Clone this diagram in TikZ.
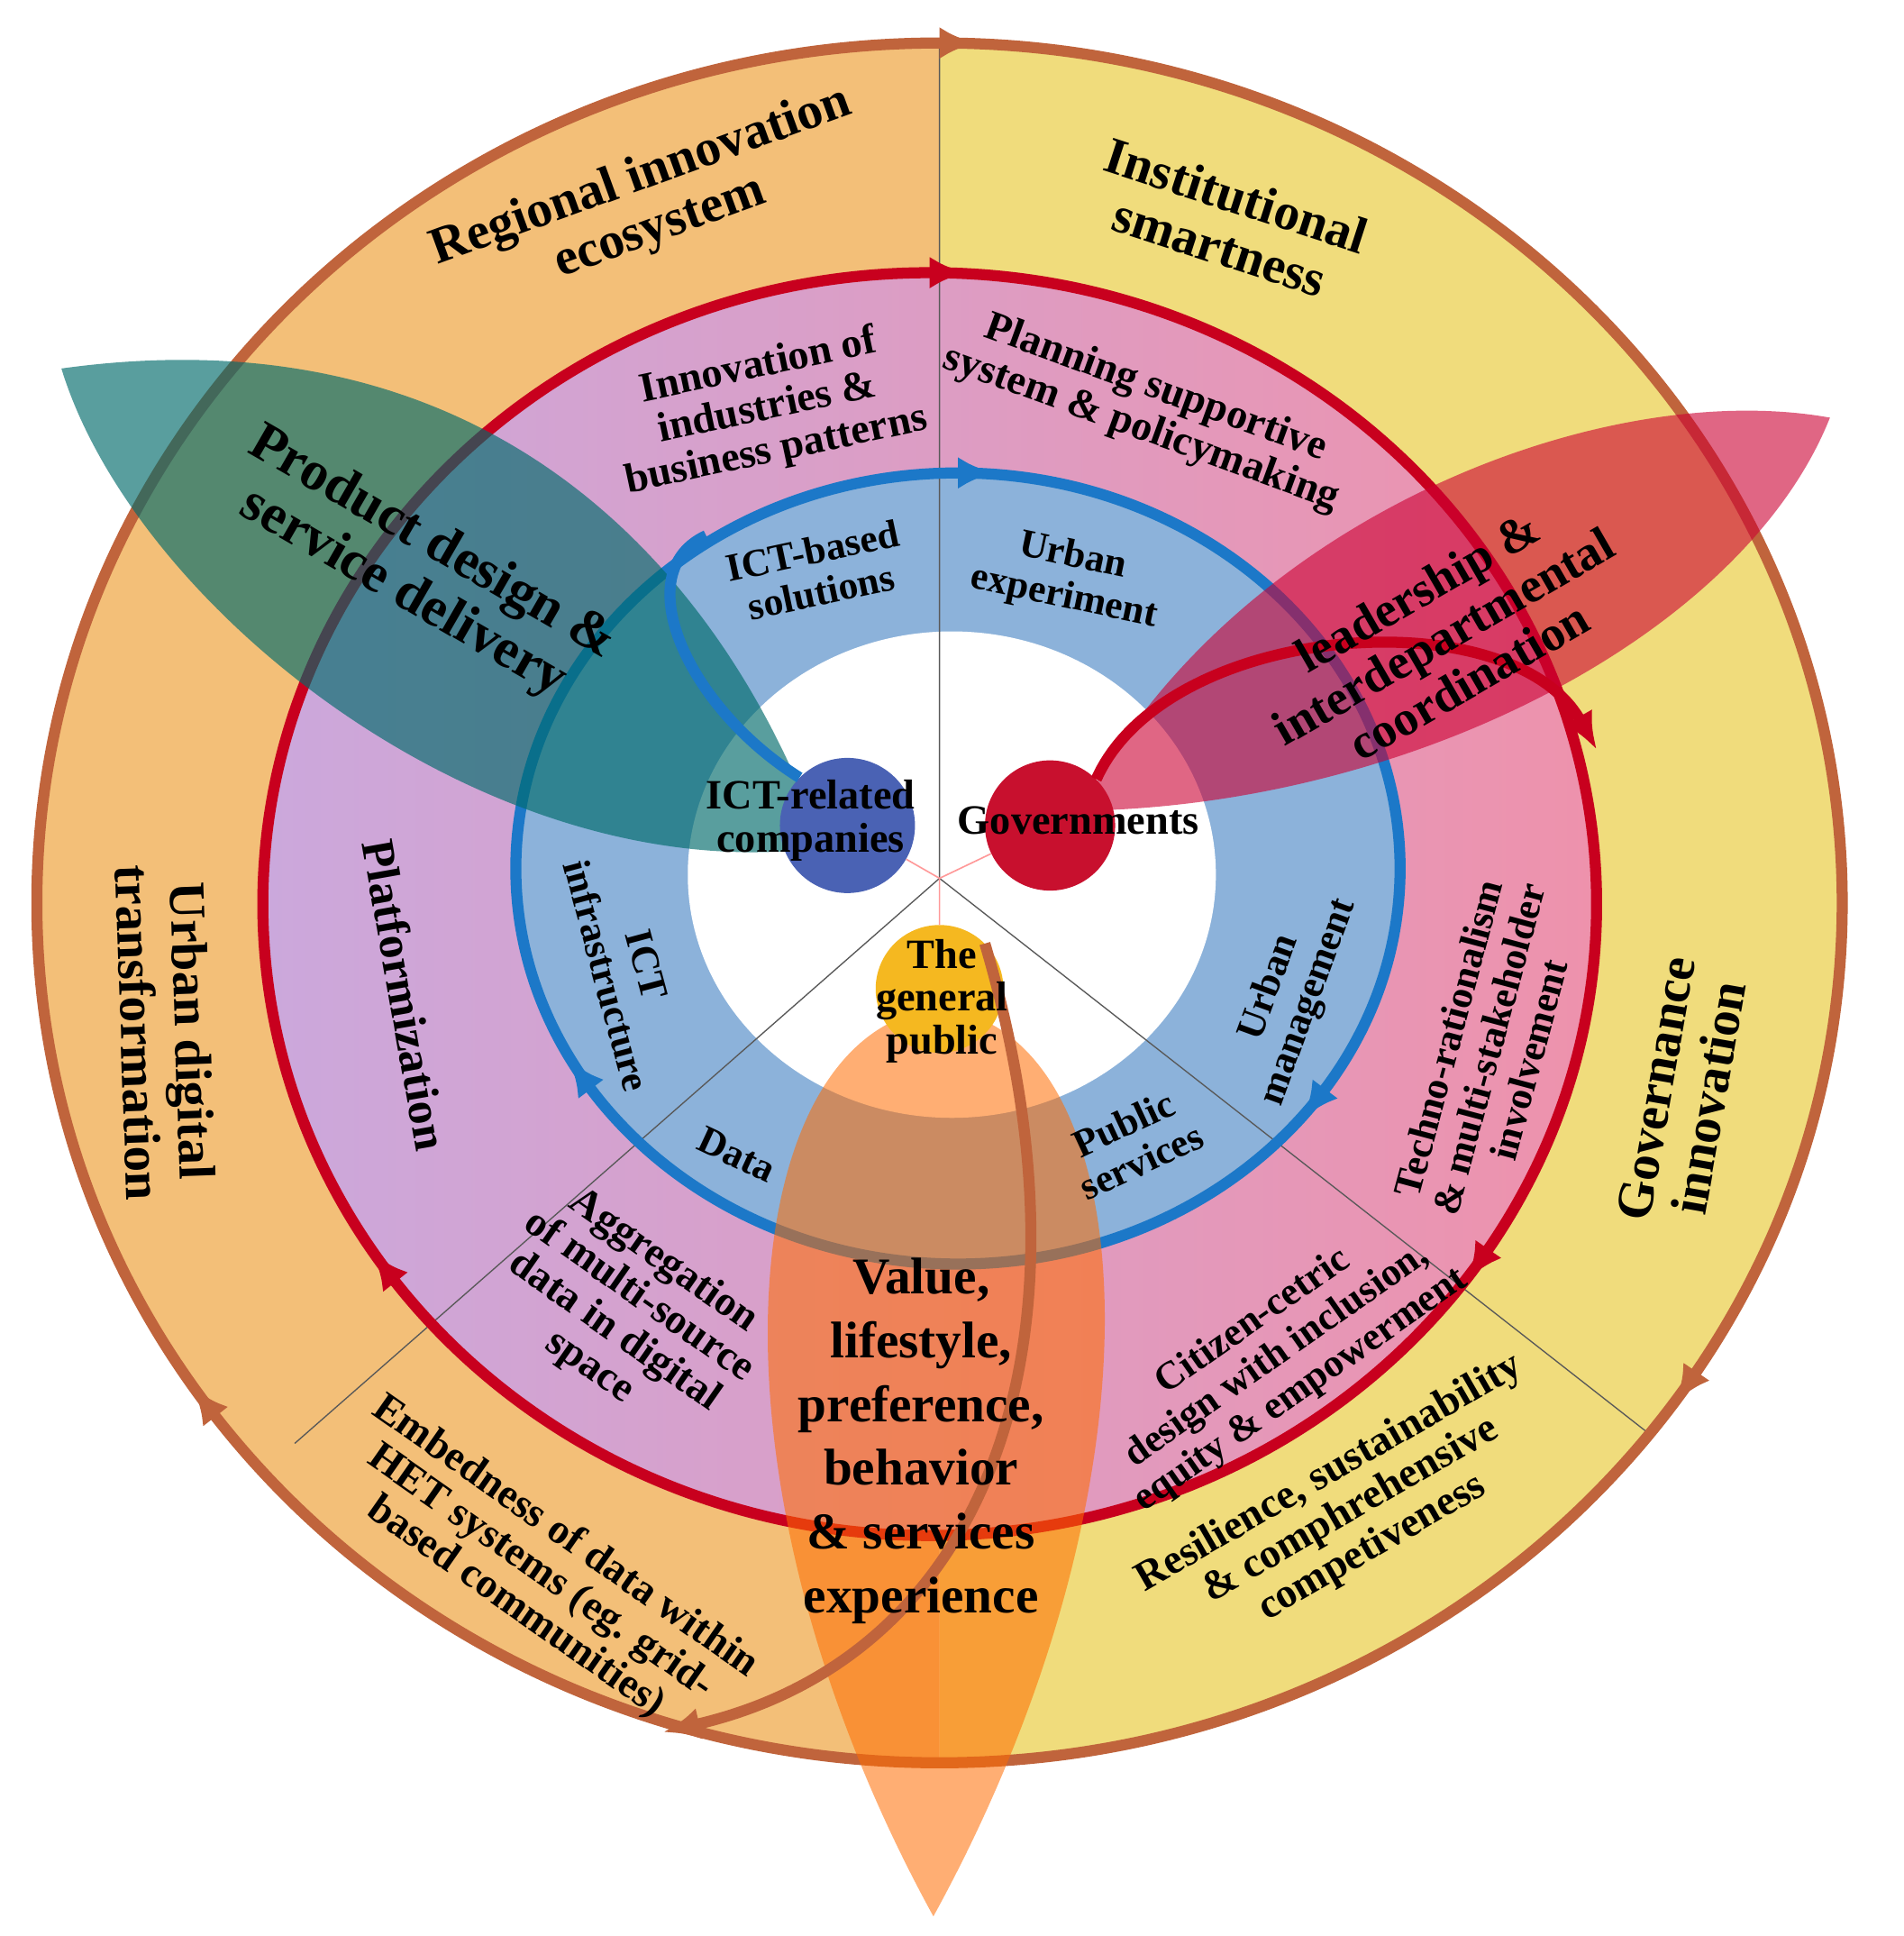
\documentclass[tikz,border=0pt]{standalone}
\usepackage{fontspec}
\setmainfont{Liberation Serif}
\usetikzlibrary{arrows.meta,decorations.markings}
\definecolor{oorange}{HTML}{F3BF78}
\definecolor{oyellow}{HTML}{F0DC7C}
\definecolor{brownc}{HTML}{C0643C}
\definecolor{redc}{HTML}{C8001E}
\definecolor{bluec}{HTML}{1C78C8}
\definecolor{lblue}{HTML}{8CB2DA}
\definecolor{lav}{HTML}{CBA8DC}
\definecolor{pinkc}{HTML}{EE92AC}
\definecolor{ictc}{HTML}{4A62B4}
\definecolor{govc}{HTML}{C8102E}
\definecolor{pubc}{HTML}{F5B820}
\tikzset{
 lbl/.style={font=\bfseries, align=center, text=black, inner sep=0pt},
 outerl/.style={lbl,font=\fontsize{42}{44}\selectfont\bfseries},
 midl/.style={lbl,font=\fontsize{34}{35}\selectfont\bfseries},
 innl/.style={lbl,font=\fontsize{32}{34}\selectfont\bfseries},
 ring/.style={line width=9pt},
 cw/.style={decoration={markings,
   mark=at position 0.25 with {\arrow{Latex[reversed,length=30pt,width=26pt]}},
   mark=at position #1 with {\arrow{Latex[reversed,length=30pt,width=26pt]}},
   mark=at position 0.91 with {\arrow{Latex[reversed,length=30pt,width=26pt]}}},postaction={decorate}},
}
\begin{document}
\begin{tikzpicture}[x=1pt,y=1pt]
\useasboundingbox (0,0) rectangle (1550,1576);
\fill[white] (0,0) rectangle (1550,1576);
% outer ring
\begin{scope}\clip (0,0) rectangle (765,1576);
\fill[oorange] (765,841) ellipse [x radius=735,y radius=700];\end{scope}
\begin{scope}\clip (765,0) rectangle (1550,1576);
\fill[oyellow] (765,841) ellipse [x radius=735,y radius=700];\end{scope}
% middle ring
\shade[left color=lav,right color=pinkc] (757,840) ellipse [x radius=543,y radius=514];
% light blue
\fill[lblue] (780,869) ellipse [x radius=360,y radius=322];
\fill[white] (775,864) ellipse [x radius=215,y radius=198];
% sector lines
\coordinate (C) at (765,861);
\coordinate (T) at (765,1541);
\coordinate (L) at (240,401);
\coordinate (R) at (1340,411);
\draw[gray!70!black,line width=1pt] (C)--(T) (C)--(L) (C)--(R);
% rings
\draw[brownc,ring,cw=0.6] (765,841) ellipse [x radius=735,y radius=700];
\draw[redc,ring,cw=0.6] (757,840) ellipse [x radius=543,y radius=514];
\draw[bluec,ring,cw=0.59] (780,869) ellipse [x radius=360,y radius=322];
% leaves
\fill[teal!80!cyan!70!black,opacity=0.65] (50,1276) .. controls (440,1330) and (610,1060) .. (670,886) .. controls (400,850) and (110,1080) .. (50,1276);
\fill[purple!80!red,opacity=0.6] (880,916) .. controls (1000,1150) and (1300,1270) .. (1490,1236) .. controls (1420,1060) and (1150,920) .. (880,916);
\fill[orange!85!red,opacity=0.55] (765,755) .. controls (600,740) and (560,380) .. (760,16) .. controls (960,380) and (930,740) .. (765,755);
% nodes
\node[circle,fill=ictc,minimum size=110pt,inner sep=0pt] (ict) at (690,904) {};
\node[circle,fill=govc,minimum size=106pt,inner sep=0pt] (gov) at (855,904) {};
\node[circle,fill=pubc,minimum size=104pt,inner sep=0pt] (pub) at (765,771) {};
\draw[pink!80!red,line width=1.2pt] (ict)--(C) (gov)--(C) (pub)--(C);
% arcs from actors
\coordinate (redend) at (1300,966);
\coordinate (brend) at (540,166);
\coordinate (blend) at (575,1140);
\draw[redc,line width=9pt,-{Latex[length=30pt,width=26pt]}] (gov.north east) .. controls (950,1070) and (1230,1090) .. (redend);
\draw[brownc,line width=9pt,-{Latex[length=30pt,width=26pt]}] (pub.north east) .. controls (900,476) and (800,226) .. (brend);
\draw[bluec,line width=9pt] (ict.north west) .. controls (560,1000) and (510,1110) .. (blend);
% actor labels
\node[midl] at (660,908) {ICT-related\\companies};
\node[midl] at (878,908) {Governments};
\node[midl] at (767,761) {The\\general\\public};
% texts
\node[outerl,rotate=20] at (530,1411) {Regional innovation\\ecosystem};
\node[outerl,rotate=-18] at (1000,1396) {Institutional\\smartness};
\node[outerl,rotate=-88] at (135,736) {Urban digital\\transformation};
\node[outerl,rotate=80] at (1370,686) {Governance\\innovation};
\node[midl,rotate=12] at (625,1243) {Innovation of\\industries \&\\business patterns};
\node[midl,rotate=-20] at (935,1243) {Planning supportive\\system \& policymaking};
\node[lbl,font=\fontsize{45}{47}\selectfont\bfseries,rotate=-30] at (340,1113) {Product design \&\\service delivery};
\node[lbl,font=\fontsize{40}{42}\selectfont\bfseries,rotate=30] at (1175,1058) {leadership \&\\interdepartmental\\coordination};
\node[innl,rotate=12] at (665,1111) {ICT-based\\solutions};
\node[innl,rotate=-12] at (870,1106) {Urban\\experiment};
\node[midl,font=\fontsize{38}{40}\selectfont\bfseries,rotate=-80] at (330,766) {Platformization};
\node[innl,rotate=-75] at (510,786) {ICT\\infrastructure};
\node[innl,rotate=70] at (1050,766) {Urban\\management};
\node[innl,rotate=-25] at (600,636) {Data};
\node[innl,rotate=25] at (922,646) {Public\\services};
\node[midl,font=\fontsize{32}{34}\selectfont\bfseries,rotate=75] at (1212,722) {Techno-rationalism\\\& multi-stakeholder\\involvement};
\node[midl,rotate=-35] at (510,506) {Aggregation\\of multi-source\\data in digital\\space};
\node[lbl,font=\fontsize{42}{52}\selectfont\bfseries] at (750,403) {Value,\\lifestyle,\\preference,\\behavior\\\& services\\experience};
\node[midl,font=\fontsize{32}{34}\selectfont\bfseries,rotate=35] at (1040,472) {Citizen-cetric\\design with inclusion,\\equity \& empowerment};
\node[midl,rotate=-35] at (440,296) {Embedness of data within\\HET systems (eg. grid-\\based communities)};
\node[midl,rotate=30] at (1100,346) {Resilience, sustainability\\\& comphrehensive\\competiveness};
\end{tikzpicture}
\end{document}
